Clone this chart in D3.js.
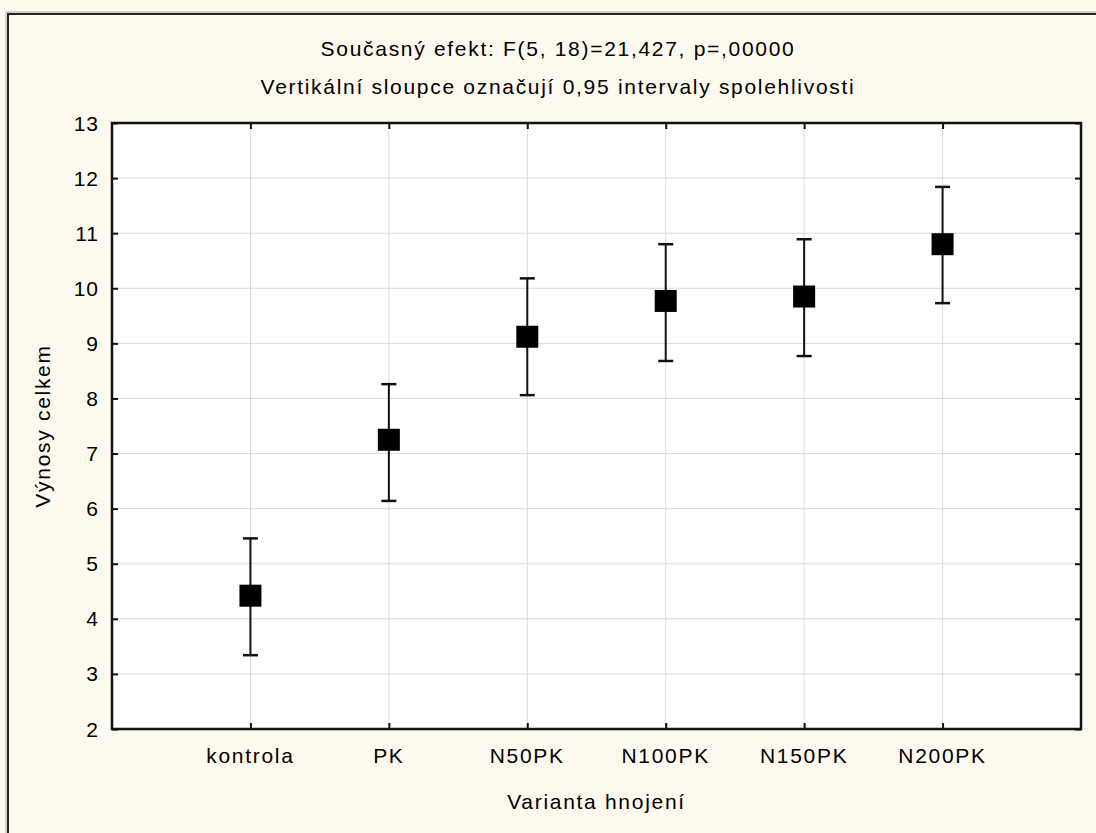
<!DOCTYPE html>
<html><head><meta charset="utf-8">
<script src="https://cdn.jsdelivr.net/npm/d3@7"></script>
<style>
html,body{margin:0;padding:0;background:#fdf9ef;}
svg{display:block;}
text{font-family:"Liberation Sans",Arial,sans-serif;fill:#000;}
</style></head>
<body>
<script>
const categories = ["kontrola","PK","N50PK","N100PK","N150PK","N200PK"];
const means = [4.42, 7.25, 9.12, 9.77, 9.85, 10.80];
const lower = [3.34, 6.14, 8.06, 8.68, 8.77, 9.73];
const upper = [5.46, 8.26, 10.18, 10.80, 10.89, 11.84];
const yTicks = [2,3,4,5,6,7,8,9,10,11,12,13];
const title1 = "Současný efekt: F(5, 18)=21,427, p=,00000";
const title2 = "Vertikální sloupce označují 0,95 intervaly spolehlivosti";
const xTitle = "Varianta hnojení";
const yTitle = "Výnosy celkem";

const W = 1096, H = 833;
const L = 112, R = 1081, T = 123, B = 729;
const FS = 21, LS = "1.7px";

const svg = d3.select("body").append("svg").attr("width", W).attr("height", H);
svg.append("rect").attr("width", W).attr("height", H).attr("fill", "#fdf9ef");
// outer frame
svg.append("rect").attr("x", 6).attr("y", 12).attr("width", W + 20).attr("height", H + 20)
  .attr("fill", "none").attr("stroke", "#aaa").attr("stroke-width", 1);
svg.append("rect").attr("x", 8).attr("y", 14).attr("width", W + 20).attr("height", H + 20)
  .attr("fill", "none").attr("stroke", "#222").attr("stroke-width", 2);

const x = d3.scaleLinear().domain([0, categories.length + 1]).range([L, R]);
const y = d3.scaleLinear().domain([2, 13]).range([B, T]);

svg.append("rect").attr("x", L).attr("y", T).attr("width", R - L).attr("height", B - T).attr("fill", "#fff");

// grid
const g = svg.append("g");
g.selectAll(".hg").data(yTicks.slice(1, -1)).join("line")
  .attr("x1", L).attr("x2", R).attr("y1", d => y(d)).attr("y2", d => y(d))
  .attr("stroke", "#dadada").attr("stroke-width", 1);
g.selectAll(".vg").data(categories).join("line")
  .attr("x1", (d, i) => x(i + 1)).attr("x2", (d, i) => x(i + 1)).attr("y1", T).attr("y2", B)
  .attr("stroke", "#dadada").attr("stroke-width", 1);

// axes
const tickStyle = sel => { sel.select(".domain").remove(); sel.selectAll("line").attr("stroke", "#111").attr("stroke-width", 2); };
const catTicks = d3.range(1, categories.length + 1);
const yl = svg.append("g").attr("transform", `translate(${L},0)`)
  .call(d3.axisRight(y).tickValues(yTicks).tickSize(6).tickFormat(""));
tickStyle(yl);
const yr = svg.append("g").attr("transform", `translate(${R},0)`)
  .call(d3.axisLeft(y).tickValues(yTicks).tickSize(6).tickFormat(""));
tickStyle(yr);
const xb = svg.append("g").attr("transform", `translate(0,${B})`)
  .call(d3.axisTop(x).tickValues(catTicks).tickSize(6).tickFormat(""));
tickStyle(xb);
const xt = svg.append("g").attr("transform", `translate(0,${T})`)
  .call(d3.axisBottom(x).tickValues(catTicks).tickSize(6).tickFormat(""));
tickStyle(xt);

// labels
svg.append("g").selectAll("text").data(yTicks).join("text")
  .attr("x", 99).attr("y", d => y(d) + 7.5).attr("text-anchor", "end")
  .attr("font-size", FS).attr("letter-spacing", "1px").text(d => d);
svg.append("g").selectAll("text").data(categories).join("text")
  .attr("x", (d, i) => x(i + 1)).attr("y", 763).attr("text-anchor", "middle")
  .attr("font-size", FS).attr("letter-spacing", LS).text(d => d);

// frame
svg.append("rect").attr("x", L).attr("y", T).attr("width", R - L).attr("height", B - T)
  .attr("fill", "none").attr("stroke", "#111").attr("stroke-width", 2.5);

// error bars
const cap = 7.5, half = 11;
const eb = svg.append("g");
categories.forEach((c, i) => {
  const cx = x(i + 1);
  eb.append("line").attr("x1", cx).attr("x2", cx).attr("y1", y(lower[i])).attr("y2", y(upper[i]))
    .attr("stroke", "#111").attr("stroke-width", 2);
  [lower[i], upper[i]].forEach(v => eb.append("line").attr("x1", cx - cap).attr("x2", cx + cap)
    .attr("y1", y(v)).attr("y2", y(v)).attr("stroke", "#111").attr("stroke-width", 2.5));
  eb.append("rect").attr("x", cx - half).attr("y", y(means[i]) - half)
    .attr("width", 2 * half).attr("height", 2 * half).attr("fill", "#000");
});

// titles
svg.append("text").attr("x", 558).attr("y", 56).attr("text-anchor", "middle")
  .attr("font-size", FS).attr("letter-spacing", LS).text(title1);
svg.append("text").attr("x", 558).attr("y", 94).attr("text-anchor", "middle")
  .attr("font-size", FS).attr("letter-spacing", LS).text(title2);
svg.append("text").attr("x", (L + R) / 2).attr("y", 809).attr("text-anchor", "middle")
  .attr("font-size", FS).attr("letter-spacing", LS).text(xTitle);
svg.append("text").attr("transform", `translate(50,${(T + B) / 2}) rotate(-90)`).attr("text-anchor", "middle")
  .attr("font-size", FS).attr("letter-spacing", LS).text(yTitle);
</script>
</body></html>
